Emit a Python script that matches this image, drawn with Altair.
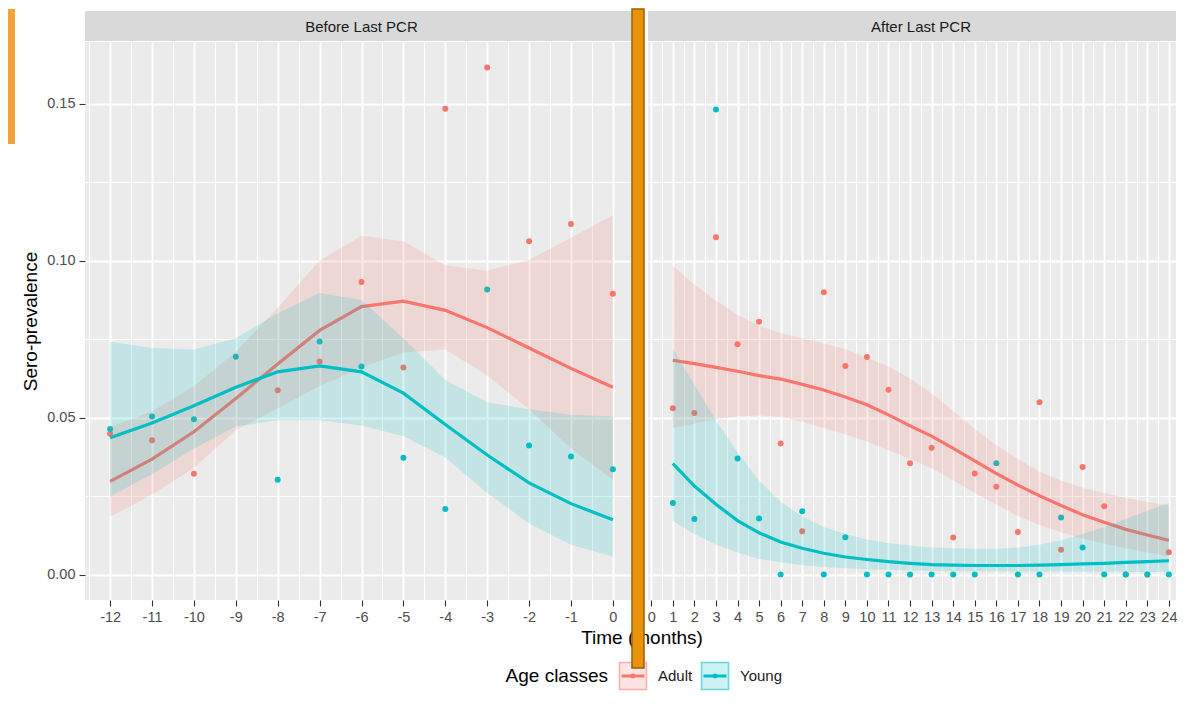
import altair as alt
import pandas as pd
import numpy as np

FONT = "Liberation Sans"

classes = ["Adult", "Young"]
class_colors = ["#F8766D", "#00BFC4"]
panel_titles = ["Before Last PCR", "After Last PCR"]

# ---------------- Before last PCR ----------------
months_before = [-12, -11, -10, -9, -8, -7, -6, -5, -4, -3, -2, -1, 0]
adult_obs_before = [0.0449, 0.0428, 0.0321, None, 0.0587, 0.0679, 0.0932, 0.0660, 0.1484, 0.1616, 0.1062, 0.1117, 0.0895]
young_obs_before = [0.0464, 0.0504, 0.0495, 0.0694, 0.0302, 0.0743, 0.0663, 0.0372, 0.0209, 0.0908, 0.0411, 0.0376, 0.0336]
adult_fit_before = [0.0297, 0.0368, 0.0455, 0.0561, 0.0671, 0.0778, 0.0854, 0.0871, 0.0842, 0.0787, 0.0722, 0.0657, 0.0597]
adult_lo_before = [0.0184, 0.0254, 0.0340, 0.0460, 0.0530, 0.0600, 0.0660, 0.0708, 0.0717, 0.0634, 0.0527, 0.0402, 0.0302]
adult_hi_before = [0.0470, 0.0520, 0.0600, 0.0710, 0.0850, 0.1000, 0.1080, 0.1062, 0.0986, 0.0968, 0.1003, 0.1073, 0.1145]
young_fit_before = [0.0436, 0.0483, 0.0538, 0.0597, 0.0646, 0.0665, 0.0646, 0.0578, 0.0478, 0.0381, 0.0292, 0.0226, 0.0175]
young_lo_before = [0.0249, 0.0320, 0.0402, 0.0472, 0.0492, 0.0492, 0.0475, 0.0441, 0.0373, 0.0260, 0.0163, 0.0095, 0.0058]
young_hi_before = [0.0742, 0.0722, 0.0717, 0.0753, 0.0833, 0.0897, 0.0875, 0.0753, 0.0620, 0.0549, 0.0527, 0.0509, 0.0504]

# ---------------- After last PCR ----------------
months_after = list(range(1, 25))
adult_obs_after = [0.0530, 0.0515, 0.1075, 0.0734, 0.0806, 0.0418, 0.0138, 0.0900, 0.0665, 0.0693, 0.0589, 0.0355,
                   0.0404, 0.0118, 0.0322, 0.0280, 0.0136, 0.0549, 0.0079, 0.0343, 0.0218, 0.0, 0.0, 0.0071]
young_obs_after = [0.0228, 0.0177, 0.1482, 0.0370, 0.0179, 0.0, 0.0202, 0.0, 0.0119, 0.0, 0.0, 0.0,
                   0.0, 0.0, 0.0, 0.0355, 0.0, 0.0, 0.0182, 0.0086, 0.0, 0.0, 0.0, 0.0]
adult_fit_after = [0.0683, 0.0672, 0.0660, 0.0648, 0.0634, 0.0623, 0.0606, 0.0588, 0.0566, 0.0541, 0.0509, 0.0474,
                   0.0441, 0.0402, 0.0362, 0.0322, 0.0285, 0.0251, 0.0220, 0.0191, 0.0167, 0.0144, 0.0126, 0.0109]
adult_lo_after = [0.0467, 0.0481, 0.0495, 0.0504, 0.0507, 0.0502, 0.0487, 0.0467, 0.0447, 0.0424, 0.0396, 0.0368,
                  0.0339, 0.0300, 0.0260, 0.0223, 0.0187, 0.0158, 0.0135, 0.0115, 0.0098, 0.0084, 0.0070, 0.0059]
adult_hi_after = [0.0984, 0.0924, 0.0873, 0.0827, 0.0793, 0.0770, 0.0753, 0.0736, 0.0719, 0.0691, 0.0663, 0.0625,
                  0.0578, 0.0521, 0.0464, 0.0413, 0.0368, 0.0328, 0.0300, 0.0277, 0.0260, 0.0245, 0.0231, 0.0220]
young_fit_after = [0.0354, 0.0282, 0.0224, 0.0172, 0.0133, 0.0104, 0.0084, 0.0068, 0.0056, 0.0048, 0.0041, 0.0036,
                   0.0032, 0.0030, 0.0029, 0.0029, 0.0029, 0.0030, 0.0032, 0.0034, 0.0036, 0.0039, 0.0041, 0.0044]
young_lo_after = [0.0171, 0.0129, 0.0095, 0.0070, 0.0050, 0.0039, 0.0030, 0.0024, 0.0020, 0.0017, 0.0015, 0.0013,
                  0.0012, 0.0011, 0.0011, 0.0011, 0.0010, 0.0010, 0.0010, 0.0009, 0.0009, 0.0008, 0.0008, 0.0008]
young_hi_after = [0.0720, 0.0606, 0.0492, 0.0390, 0.0300, 0.0232, 0.0186, 0.0152, 0.0129, 0.0112, 0.0101, 0.0093,
                  0.0086, 0.0084, 0.0082, 0.0082, 0.0086, 0.0095, 0.0109, 0.0129, 0.0152, 0.0177, 0.0203, 0.0228]

y_ticks = [0.0, 0.025, 0.05, 0.075, 0.10, 0.125, 0.15]


def build_df(months, series):
    rows = []
    for cls, (obs, fit, lo, hi) in zip(classes, series):
        for m, o, f, l, h in zip(months, obs, fit, lo, hi):
            rows.append({"month": m, "cls": cls, "obs": o, "fit": f, "lo": l, "hi": h})
    return pd.DataFrame(rows)


df_before = build_df(months_before, [
    (adult_obs_before, adult_fit_before, adult_lo_before, adult_hi_before),
    (young_obs_before, young_fit_before, young_lo_before, young_hi_before)])
df_after = build_df(months_after, [
    (adult_obs_after, adult_fit_after, adult_lo_after, adult_hi_after),
    (young_obs_after, young_fit_after, young_lo_after, young_hi_after)])

color_scale = alt.Scale(domain=classes, range=class_colors)
Y_DOMAIN = [-0.0081, 0.1697]
PANEL_H = 558

x_minor = "datum.value % 1 !== 0"
y_minor = "round(datum.value * 1000) % 50 !== 0"


def make_panel(df, title, domain, width, title_x, grid_x, show_y):
    x_axis = alt.Axis(
        values=grid_x,
        labelExpr="datum.value % 1 === 0 ? '' + datum.value : ''",
        labelFont=FONT, labelFontSize=14.5, labelColor="#4D4D4D", labelPadding=4,
        labelOverlap=False, labelFlush=False,
        tickSize=6, tickColor="#333333", tickWidth=1.1,
        tickOpacity={"condition": {"test": x_minor, "value": 0}, "value": 1},
        grid=True, gridColor="white",
        gridWidth={"condition": {"test": x_minor, "value": 0.9}, "value": 1.9},
        domain=False, title=None,
    )
    y_axis = alt.Axis(
        values=y_ticks,
        labelExpr="round(datum.value * 1000) % 50 === 0 ? format(datum.value, '.2f') : ''",
        labels=show_y,
        labelFont=FONT, labelFontSize=14.5, labelColor="#4D4D4D", labelPadding=4,
        labelOverlap=False, labelFlush=False,
        ticks=show_y, tickSize=6, tickColor="#333333", tickWidth=1.1,
        tickOpacity={"condition": {"test": y_minor, "value": 0}, "value": 1},
        grid=True, gridColor="white",
        gridWidth={"condition": {"test": y_minor, "value": 0.9}, "value": 1.9},
        domain=False,
        title="Sero-prevalence" if show_y else None,
        titleFont=FONT, titleFontSize=19, titleFontWeight="normal", titleColor="black",
        titlePadding=6,
    )
    x_enc = alt.X("month:Q", scale=alt.Scale(domain=domain, nice=False, zero=False), axis=x_axis, title=None)
    yscale = alt.Scale(domain=Y_DOMAIN, nice=False, zero=False)
    ytitle = "Sero-prevalence" if show_y else None
    color_enc = alt.Color("cls:N", scale=color_scale, legend=None)

    strip_df = pd.DataFrame({"label": [title]})
    strip = alt.Chart(strip_df).mark_rect(color="#D9D9D9").encode(
        x=alt.value(0), x2=alt.value(width), y=alt.value(-31), y2=alt.value(-1))
    strip_txt = alt.Chart(strip_df).mark_text(
        font=FONT, fontSize=15, color="#1A1A1A", baseline="middle", align="center").encode(
        x=alt.value(title_x), y=alt.value(-15.5), text="label:N")

    base = alt.Chart(df)
    pts = base.mark_circle(size=36, opacity=1).encode(
        x=x_enc,
        y=alt.Y("obs:Q", scale=yscale, axis=y_axis, title=ytitle),
        color=color_enc,
    ).transform_filter("isValid(datum.obs)")

    layers = [strip, strip_txt, pts]
    for cls in classes:
        band = base.mark_area(opacity=0.17).encode(
            x=x_enc,
            y=alt.Y("lo:Q", scale=yscale, axis=y_axis, title=ytitle),
            y2="hi:Q",
            color=color_enc,
        ).transform_filter(alt.datum.cls == cls)
        line = base.mark_line(strokeWidth=3.2).encode(
            x=x_enc,
            y=alt.Y("fit:Q", scale=yscale, axis=y_axis, title=ytitle),
            color=color_enc,
        ).transform_filter(alt.datum.cls == cls)
        layers += [band, line]

    return alt.layer(*layers).properties(
        width=width, height=PANEL_H,
        view=alt.ViewBackground(fill="#EBEBEB", stroke=None),
    )


LEFT_W = 553
RIGHT_W = 528
left = make_panel(df_before, panel_titles[0], [-12.6, 0.6], LEFT_W, LEFT_W / 2,
                  [float(v) for v in np.arange(-12.5, 0.51, 0.5)], True)
right = make_panel(df_after, panel_titles[1], [-0.15, 24.33], RIGHT_W, 273,
                   [float(v) for v in np.arange(0.0, 24.01, 0.5)], False)

# ---------------- bottom: x title + legend + overlay marks ----------------
one = pd.DataFrame({"t": ["Time (months)"]})
legend_df = pd.DataFrame({"cls": classes})
lx = alt.X("cls:N", scale=alt.Scale(domain=classes, range=[548, 630], padding=0), axis=None)
lcol = alt.Color("cls:N", scale=color_scale, legend=None)
LY = 76

xtitle = alt.Chart(one).mark_text(font=FONT, fontSize=19, color="black", baseline="middle").encode(
    x=alt.value(557), y=alt.value(37.5), text="t:N")
leg_title = alt.Chart(pd.DataFrame({"t": ["Age classes"]})).mark_text(
    font=FONT, fontSize=19, color="black", baseline="middle", align="right").encode(
    x=alt.value(523), y=alt.value(LY), text="t:N")
leg_fill = alt.Chart(legend_df).mark_point(shape="square", size=27 * 27, filled=True, opacity=0.2).encode(
    x=lx, y=alt.value(LY), color=lcol)
leg_box = alt.Chart(legend_df).mark_point(shape="square", size=27 * 27, filled=False, strokeWidth=1.5, opacity=0.55).encode(
    x=lx, y=alt.value(LY), color=lcol)
leg_line = alt.Chart(legend_df).mark_point(shape="M-1,0H1", size=23 * 23, filled=False, strokeWidth=3, opacity=1).encode(
    x=lx, y=alt.value(LY), color=lcol)
leg_dot = alt.Chart(legend_df).mark_circle(size=24, opacity=1).encode(
    x=lx, y=alt.value(LY), color=lcol)
leg_lab = alt.Chart(legend_df).mark_text(font=FONT, fontSize=15, color="#1A1A1A", align="left",
                                         baseline="middle", dx=25).encode(
    x=lx, y=alt.value(LY), text="cls:N")

bar = alt.Chart(pd.DataFrame({"k": [0]})).mark_rect(fill="#E8930C", stroke="#9A6000", strokeWidth=1.5).encode(
    x=alt.value(547), x2=alt.value(559), y=alt.value(-591), y2=alt.value(68))
corner = alt.Chart(pd.DataFrame({"k": [0]})).mark_rect(fill="#F2A33A").encode(
    x=alt.value(-77), x2=alt.value(-70), y=alt.value(-591), y2=alt.value(-456))

bottom = alt.layer(xtitle, leg_title, leg_fill, leg_box, leg_line, leg_dot, leg_lab, bar, corner).properties(
    width=1, height=1)

chart = alt.concat(left, right, bottom, columns=2, spacing={"row": 0, "column": 10}, bounds="flush").properties(
    padding=0, background="white"
).configure(font=FONT).configure_view(stroke=None)

chart.save("out.html", embed_options={"renderer": "svg", "actions": False})
